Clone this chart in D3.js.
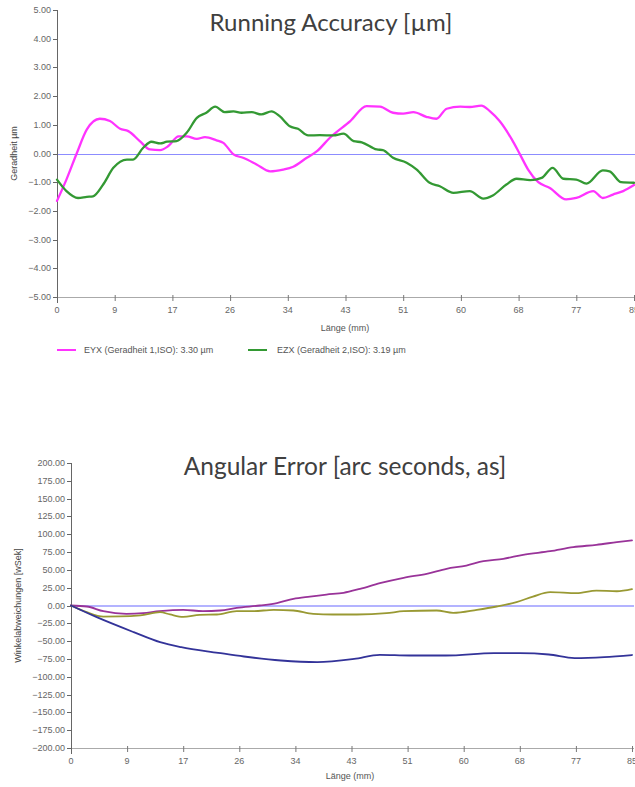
<!DOCTYPE html>
<html><head><meta charset="utf-8">
<script src="https://cdn.jsdelivr.net/npm/d3@7"></script>
<style>body{margin:0;background:#fff}svg{display:block}</style>
</head><body>
<svg id="c" width="635" height="787"></svg>
<script>
// ---- data ----
const xTickValues = [0, 8.5, 17, 25.5, 34, 42.5, 51, 59.5, 68, 76.5, 85];
const xTickLabels = ["0","9","17","26","34","43","51","60","68","77","85"];
const topYTicks = [-5,-4,-3,-2,-1,0,1,2,3,4,5];
const botYTicks = [-200,-175,-150,-125,-100,-75,-50,-25,0,25,50,75,100,125,150,175,200];

const eyxX = [0,1.4,2.9,4.4,6.3,7.8,9.3,10.5,12.2,13.7,15.2,16.4,17.9,19.1,20.6,21.8,23.5,24.5,26,27.4,29.4,31.4,33.3,34.8,36.8,38.3,40.2,43.2,45.6,47.6,49.5,51,52.5,54.4,55.9,57.4,59.4,60.8,62.5,63.8,65.2,67,68.2,69.4,70.9,72.6,75,76.5,79,80.4,81.9,83.4,85];
const eyxY = [-1.65,-0.9,0,0.84,1.21,1.13,0.86,0.78,0.43,0.14,0.12,0.26,0.6,0.6,0.51,0.57,0.46,0.37,-0.03,-0.15,-0.38,-0.62,-0.56,-0.46,-0.15,0.08,0.55,1.13,1.65,1.63,1.42,1.39,1.44,1.28,1.21,1.56,1.63,1.62,1.67,1.47,1.13,0.49,-0.03,-0.56,-1.0,-1.2,-1.6,-1.55,-1.31,-1.55,-1.43,-1.31,-1.1];
const ezxX = [0,1.4,3.1,4.4,5.3,6.8,8.3,10.3,11.2,12.7,13.9,15.2,16.2,17.6,19.1,20.6,22,23.3,24.7,26,27.2,28.7,30.1,31.6,32.8,34.3,35.5,37,38.7,40.7,42.2,43.7,44.9,47.1,48,49.5,51.5,53,54.9,56.4,58.4,60.8,62.8,64.2,66.2,67.7,69.7,71.4,73,74.6,76.5,78,80.4,81.4,83.1,85];
const ezxY = [-0.91,-1.31,-1.55,-1.51,-1.49,-1.08,-0.5,-0.21,-0.21,0.2,0.41,0.35,0.41,0.43,0.72,1.24,1.42,1.63,1.44,1.47,1.42,1.44,1.36,1.47,1.3,0.95,0.86,0.63,0.64,0.63,0.69,0.43,0.39,0.14,0.12,-0.15,-0.32,-0.56,-1.02,-1.14,-1.37,-1.31,-1.57,-1.46,-1.08,-0.88,-0.93,-0.85,-0.5,-0.88,-0.91,-1.05,-0.59,-0.62,-1.0,-1.02];

const purpleX = [0,2.4,4.9,8.4,10.9,13.4,17,20,22.6,25.1,28.6,31.2,33.7,36.2,38.7,41.3,43.8,46.8,50.4,53.9,56.9,59.9,62.5,65.5,68.5,72.6,76.1,79.6,82.7,85];
const purpleY = [0,-1.4,-8,-11.7,-10.8,-8,-6,-8,-7,-3.3,0,3.3,9.4,12.6,15.4,17.8,23.4,31.3,38.9,44.5,51.5,56.1,62.2,65.5,71.2,76.2,81.9,85.2,88.9,91.5];
const oliveX = [0,2.4,4.9,7.4,10.5,13.5,15,17,19.5,22.1,25.1,27.6,30.7,33.7,36.7,39.7,43.3,47.8,50.4,55.4,57.9,61.5,64.5,67.5,70,72.6,76.6,79.6,82.7,85];
const oliveY = [0,-9.4,-15.5,-15.4,-14,-9.4,-12.6,-16,-13.1,-12.6,-8,-8,-6,-7,-11.7,-12.6,-12.6,-10.8,-8,-7,-10.3,-6,-1.4,4.7,12.6,18.7,17.3,21,20,23];
const navyX = [0,3.9,9.5,13.5,16.7,22.3,26.2,31.8,37.3,42.9,46.8,51.3,56.8,64.1,68,72.4,76.3,80.8,85];
const navyY = [0,-16.4,-37.4,-51.5,-58.5,-66.4,-71.6,-77.2,-79.5,-74.9,-69.2,-70.2,-70.2,-66.9,-66.9,-68.8,-73.9,-72.5,-69.5];

const topSeries = [
  {name:"EYX (Geradheit 1,ISO): 3.30 µm", xs:eyxX, ys:eyxY, color:"#ff33ff"},
  {name:"EZX (Geradheit 2,ISO): 3.19 µm", xs:ezxX, ys:ezxY, color:"#339933"}
];
const botSeries = [
  {xs:purpleX, ys:purpleY, color:"#993399"},
  {xs:oliveX, ys:oliveY, color:"#999933"},
  {xs:navyX, ys:navyY, color:"#333399"}
];

// ---- drawing ----
const svg = d3.select("#c");
const tickFont = "Liberation Sans, Arial, sans-serif";

function chart(opts){
  const g = svg.append("g");
  const x = d3.scaleLinear().domain([0,85]).range([opts.left, opts.right]);
  const y = d3.scaleLinear().domain(opts.yDomain).range([opts.bottom, opts.top]);

  // title
  g.append("text").attr("x", opts.titleX).attr("y", opts.titleY)
    .attr("text-anchor","middle").attr("font-family","Lato, 'Open Sans', sans-serif")
    .attr("font-size", opts.titleSize).attr("fill","#404040").text(opts.title);

  // x axis line
  g.append("line").attr("x1",opts.left).attr("x2",opts.right+2)
    .attr("y1",opts.bottom+0.5).attr("y2",opts.bottom+0.5).attr("stroke","#aaa");
  const xa = g.append("g");
  xa.selectAll("line").data(xTickValues).join("line")
    .attr("x1",d=>x(d)+0.5).attr("x2",d=>x(d)+0.5)
    .attr("y1",opts.bottom-2).attr("y2",opts.bottom+4).attr("stroke","#777");
  xa.selectAll("text").data(xTickValues).join("text")
    .attr("x",d=>x(d)).attr("y",opts.bottom+16)
    .attr("text-anchor","middle").attr("font-family",tickFont).attr("font-size",9)
    .attr("fill","#666").text((d,i)=>xTickLabels[i]);
  g.append("text").attr("x",opts.xLabelX).attr("y",opts.xLabelY)
    .attr("text-anchor","middle").attr("font-family",tickFont).attr("font-size",9)
    .attr("fill","#555").text("Länge (mm)");

  // y axis
  g.append("line").attr("x1",opts.left+0.5).attr("x2",opts.left+0.5)
    .attr("y1",opts.top).attr("y2",opts.bottom+6).attr("stroke","#666");
  const ya = g.append("g");
  ya.selectAll("line").data(opts.yTicks).join("line")
    .attr("x1",opts.left-4).attr("x2",opts.left)
    .attr("y1",d=>Math.round(y(d))+0.5).attr("y2",d=>Math.round(y(d))+0.5).attr("stroke","#666");
  ya.selectAll("text").data(opts.yTicks).join("text")
    .attr("x",opts.left-6).attr("y",d=>y(d)+3)
    .attr("text-anchor","end").attr("font-family",tickFont).attr("font-size",9)
    .attr("fill","#666").text(d=>d3.format(".2f")(d));
  g.append("text").attr("transform",`translate(${opts.yLabelX},${y(0)}) rotate(-90)`)
    .attr("text-anchor","middle").attr("font-family",tickFont).attr("font-size",9)
    .attr("fill","#444").text(opts.yLabel);

  // zero line
  const zy = Math.round(y(0)) + (opts.zeroWidth % 2 ? 0.5 : 0);
  g.append("line").attr("x1",opts.left+1).attr("x2",opts.right+2)
    .attr("y1",zy).attr("y2",zy).attr("stroke",opts.zeroColor).attr("stroke-width",opts.zeroWidth);

  const line = d3.line().x(d=>x(d[0])).y(d=>y(d[1])).curve(d3.curveMonotoneX);
  opts.series.forEach(s=>{
    const pts = s.xs.map((v,i)=>[v,s.ys[i]]);
    g.append("path").attr("d",line(pts)).attr("fill","none")
      .attr("stroke",s.color).attr("stroke-width",opts.lineWidth)
      .attr("stroke-linejoin","round").attr("stroke-linecap","round");
  });
  return {g,x,y};
}

chart({left:57,right:634,top:10,bottom:297,yDomain:[-5,5],yTicks:topYTicks,
  title:"Running Accuracy [µm]",titleX:331,titleY:31,titleSize:24,
  xLabelX:345,xLabelY:331,yLabel:"Geradheit µm",yLabelX:17,
  zeroColor:"#8c8cff",zeroWidth:1,lineWidth:2.3,series:topSeries});

// legend
const lg = svg.append("g");
const legendPos = [{lx:57,tx:84},{lx:248,tx:277}];
topSeries.forEach((s,i)=>{
  const p = legendPos[i];
  lg.append("line").attr("x1",p.lx).attr("x2",p.lx+19).attr("y1",350).attr("y2",350)
    .attr("stroke",s.color).attr("stroke-width",2);
  lg.append("text").attr("x",p.tx).attr("y",353).attr("font-family",tickFont)
    .attr("font-size",9).attr("fill","#555").text(s.name);
});

chart({left:71,right:632,top:463,bottom:748,yDomain:[-200,200],yTicks:botYTicks,
  title:"Angular Error [arc seconds, as]",titleX:345,titleY:475,titleSize:24.5,
  xLabelX:350,xLabelY:779,yLabel:"Winkelabweichungen [wSek]",yLabelX:21,
  zeroColor:"#b3b3ff",zeroWidth:2,lineWidth:1.8,series:botSeries});
</script>
</body></html>
